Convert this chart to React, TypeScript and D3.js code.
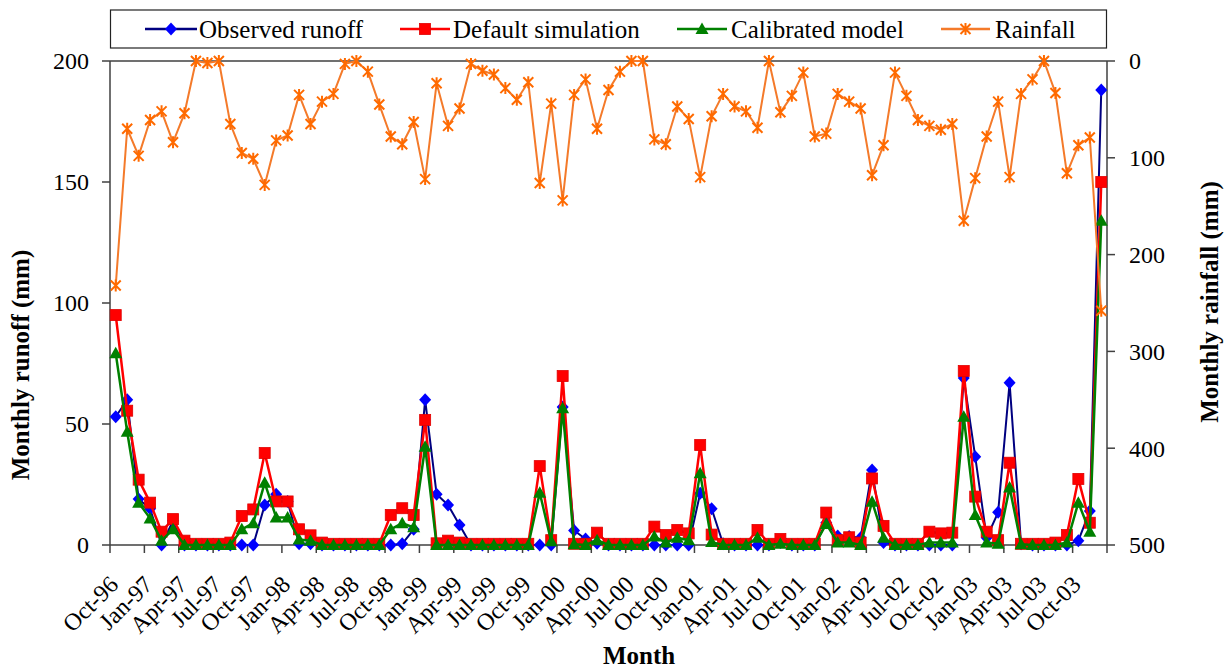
import React from "react";
import * as d3 from "d3";

// ---------- DATA ----------
const startMonth = new Date(1996, 9, 1);
const endMonth = new Date(2004, 0, 1);
const months: Date[] = d3.timeMonth.range(startMonth, endMonth); // Oct-96 .. Dec-03 (87)

const tickLabels = [
  "Oct-96", "Jan-97", "Apr-97", "Jul-97", "Oct-97", "Jan-98", "Apr-98", "Jul-98",
  "Oct-98", "Jan-99", "Apr-99", "Jul-99", "Oct-99", "Jan-00", "Apr-00", "Jul-00",
  "Oct-00", "Jan-01", "Apr-01", "Jul-01", "Oct-01", "Jan-02", "Apr-02", "Jul-02",
  "Oct-02", "Jan-03", "Apr-03", "Jul-03", "Oct-03",
];

const runoffTicks = [0, 50, 100, 150, 200];
const rainTicks = [0, 100, 200, 300, 400, 500];

const observed = [
  53, 60, 19, 15, 0, 10, 0, 0, 0, 0, 0, 0, 0, 16.5, 21, 18, 0.5, 0.5, 0, 0,
  0, 0, 0, 0, 0, 0.5, 6.5, 60, 21, 16.5, 8.3, 0, 0, 0, 0, 0, 0, 0, 0, 57,
  6, 2.5, 0.7, 0, 0, 0, 0, 0, 0, 0, 0, 21.4, 15, 0.5, 0, 0, 0, 0, 1, 0,
  0, 0, 9.2, 3.7, 3.5, 3, 31, 1, 0, 0, 0, 0, 0, 0, 69, 36.5, 3, 13.5, 67, 0.5,
  0, 0, 0, 0, 1.8, 14, 188,
];

const defaultSim = [
  95, 55.5, 27, 17.5, 5.5, 10.7, 1.8, 0.5, 0.5, 0.5, 1, 12, 14.7, 38, 18, 18, 6.5, 4, 1, 0.5,
  0.5, 0.5, 0.5, 0.5, 12.4, 15.2, 12.4, 51.7, 0.7, 1.8, 1, 0.5, 0.5, 0.5, 0.5, 0.5, 0.5, 32.6, 2, 69.8,
  0.5, 0.5, 5.1, 0.5, 0.5, 0.5, 0.5, 7.6, 4.1, 6.2, 4.8, 41.3, 4.3, 0.5, 0.5, 0.5, 6.2, 0.5, 2.5, 0.5,
  0.5, 0.5, 13.4, 2, 3.2, 1, 27.5, 7.9, 0.5, 0.5, 0.5, 5.5, 4.8, 5.1, 71.9, 20, 5.5, 2, 34, 0.5,
  0.5, 0.5, 1, 4.1, 27.3, 9.2, 150,
];

const calibrated = [
  79.2, 46.8, 17.5, 11, 1.8, 6.5, 0, 0, 0, 0, 0, 6.5, 9, 25.7, 11.4, 11.4, 2.3, 1.8, 0, 0,
  0, 0, 0, 0, 6.5, 9, 7.3, 40.6, 0, 0, 0, 0, 0, 0, 0, 0, 0, 21.6, 1.5, 56.5,
  0.3, 0, 2, 0, 0, 0, 0, 3.5, 1, 3, 2, 29.6, 1.2, 0, 0, 0, 3, 0, 0.5, 0,
  0, 0, 8.7, 1, 1, 0, 17.9, 3, 0, 0, 0, 1, 1, 1, 53, 12.4, 1, 0.5, 23.8, 0.3,
  0, 0, 0, 1, 17.5, 5.5, 134,
];

const rainfall = [
  232, 70, 98, 61, 52, 84, 54, 0, 2, 0, 65, 95, 101, 128, 82, 77, 35, 65, 42, 34,
  3, 0, 11, 45, 78, 86, 63, 122, 23, 67, 49, 3, 10, 14, 28, 40, 22, 126, 44, 144,
  35, 19, 70, 30, 11, 0, 0, 81, 86, 47, 60, 120, 57, 34, 47, 52, 69, 0, 53, 36,
  12, 78, 75, 34, 42, 49, 118, 87, 12, 36, 61, 67, 71, 65, 165, 121, 78, 42, 120, 34,
  19, 0, 33, 116, 87, 79, 258,
];

const seriesNames = ["Observed runoff", "Default simulation", "Calibrated model", "Rainfall"];

// ---------- LAYOUT ----------
const W = 1227;
const H = 670;
const plot = { left: 110, right: 1107, top: 61, bottom: 545 };
const FONT = "'Liberation Serif', 'Times New Roman', Times, serif";
const AXIS = "#404040";

const COLORS = {
  obsLine: "#000080",
  obsMark: "#0000FF",
  defLine: "#FF0000",
  defMark: "#FF0000",
  calLine: "#008000",
  calMark: "#008000",
  rainLine: "#F47A2A",
  rainMark: "#FF6A00",
};

function Marker({ kind, x, y }: { kind: string; x: number; y: number }) {
  if (kind === "diamond")
    return <path d={`M${x},${y - 6.5} L${x + 6},${y} L${x},${y + 6.5} L${x - 6},${y} Z`} fill={COLORS.obsMark} />;
  if (kind === "square")
    return <rect x={x - 5.5} y={y - 5.5} width={11} height={11} fill={COLORS.defMark} stroke="#E00000" strokeWidth={0.8} />;
  if (kind === "triangle")
    return <path d={`M${x},${y - 6.5} L${x + 6.5},${y + 5} L${x - 6.5},${y + 5} Z`} fill={COLORS.calMark} />;
  return (
    <path
      d={`M${x - 5},${y - 5} L${x + 5},${y + 5} M${x - 5},${y + 5} L${x + 5},${y - 5} M${x},${y - 6} L${x},${y + 6}`}
      stroke={COLORS.rainMark}
      strokeWidth={2}
      fill="none"
    />
  );
}

export default function App() {
  const idx = months.map((_, i) => i);
  const xBand = d3.scaleBand<number>().domain(idx).range([plot.left, plot.right]).padding(0);
  const xc = (i: number) => (xBand(i) as number) + xBand.bandwidth() / 2;
  const yL = d3.scaleLinear().domain([0, 200]).range([plot.bottom, plot.top]);
  const yR = d3.scaleLinear().domain([0, 500]).range([plot.top, plot.bottom]);

  const lineL = d3.line<number>().x((_, i) => xc(i)).y((d) => yL(d));
  const lineR = d3.line<number>().x((_, i) => xc(i)).y((d) => yR(d));

  const series = [
    { data: observed, line: lineL, color: COLORS.obsLine, width: 2, marker: "diamond", yS: yL },
    { data: defaultSim, line: lineL, color: COLORS.defLine, width: 2.5, marker: "square", yS: yL },
    { data: calibrated, line: lineL, color: COLORS.calLine, width: 2.5, marker: "triangle", yS: yL },
    { data: rainfall, line: lineR, color: COLORS.rainLine, width: 2, marker: "star", yS: yR },
  ];

  // boundaries every 3 categories
  const boundaries: number[] = [];
  for (let i = 0; i <= months.length; i += 3) boundaries.push(plot.left + xBand.step() * i);

  const legendItems = [
    { name: seriesNames[0], color: COLORS.obsLine, marker: "diamond", x0: 145, x1: 197, tx: 199 },
    { name: seriesNames[1], color: COLORS.defLine, marker: "square", x0: 400, x1: 450, tx: 453 },
    { name: seriesNames[2], color: COLORS.calLine, marker: "triangle", x0: 677, x1: 727, tx: 731 },
    { name: seriesNames[3], color: COLORS.rainLine, marker: "star", x0: 941, x1: 990, tx: 995 },
  ];

  return (
    <svg
      width={W}
      height={H}
      style={{ position: "absolute", left: 0, top: 0, background: "#fff" }}
      fontFamily={FONT}
    >
      <rect x={0} y={0} width={W} height={H} fill="#fff" />

      {/* plot frame */}
      <line x1={plot.left} x2={plot.right} y1={plot.top} y2={plot.top} stroke={AXIS} strokeWidth={1.5} />
      <line x1={plot.left} x2={plot.left} y1={plot.top} y2={plot.bottom} stroke={AXIS} strokeWidth={1.5} />
      <line x1={plot.right} x2={plot.right} y1={plot.top} y2={plot.bottom} stroke={AXIS} strokeWidth={1.5} />
      <line x1={plot.left} x2={plot.right} y1={plot.bottom} y2={plot.bottom} stroke={AXIS} strokeWidth={1.5} />

      {/* left axis */}
      {runoffTicks.map((t) => (
        <g key={"l" + t}>
          <line x1={plot.left - 8} x2={plot.left} y1={yL(t)} y2={yL(t)} stroke={AXIS} strokeWidth={1.5} />
          <text x={89} y={yL(t)} dy="0.35em" textAnchor="end" fontSize={24} fontFamily={FONT}>
            {t}
          </text>
        </g>
      ))}

      {/* right axis */}
      {rainTicks.map((t) => (
        <g key={"r" + t}>
          <line x1={plot.right} x2={plot.right + 8} y1={yR(t)} y2={yR(t)} stroke={AXIS} strokeWidth={1.5} />
          <text x={1129} y={yR(t)} dy="0.35em" textAnchor="start" fontSize={24} fontFamily={FONT}>
            {t}
          </text>
        </g>
      ))}

      {/* bottom axis ticks */}
      {boundaries.map((b, k) => (
        <line key={"b" + k} x1={b} x2={b} y1={plot.bottom} y2={plot.bottom + 8} stroke={AXIS} strokeWidth={1.5} />
      ))}
      {tickLabels.map((lab, k) => {
        const x = xc(k * 3);
        return (
          <text
            key={"t" + lab}
            transform={`translate(${x + 4},${586}) rotate(-45)`}
            textAnchor="end"
            fontSize={24}
            fontFamily={FONT}
          >
            {lab}
          </text>
        );
      })}

      {/* series */}
      {series.map((s, si) => (
        <g key={"s" + si}>
          <path d={s.line(s.data) || ""} fill="none" stroke={s.color} strokeWidth={s.width} strokeLinejoin="round" />
          {s.data.map((v, i) => (
            <Marker key={i} kind={s.marker} x={xc(i)} y={s.yS(v)} />
          ))}
        </g>
      ))}

      {/* axis titles */}
      <text transform="translate(28.5,365) rotate(-90)" textAnchor="middle" fontSize={25} fontWeight="bold" fontFamily={FONT}>
        Monthly runoff (mm)
      </text>
      <text transform="translate(1218,302) rotate(-90)" textAnchor="middle" fontSize={25} fontWeight="bold" fontFamily={FONT}>
        Monthly rainfall (mm)
      </text>
      <text x={639} y={664} textAnchor="middle" fontSize={25} fontWeight="bold" fontFamily={FONT}>
        Month
      </text>

      {/* legend */}
      <rect x={110.5} y={10} width={996} height={38} fill="#fff" stroke="#222" strokeWidth={1.2} />
      {legendItems.map((it) => (
        <g key={it.name}>
          <line x1={it.x0} x2={it.x1} y1={29} y2={29} stroke={it.color} strokeWidth={2.5} />
          <Marker kind={it.marker} x={(it.x0 + it.x1) / 2} y={29} />
          <text x={it.tx} y={37.5} fontSize={25} fontFamily={FONT}>
            {it.name}
          </text>
        </g>
      ))}
    </svg>
  );
}
